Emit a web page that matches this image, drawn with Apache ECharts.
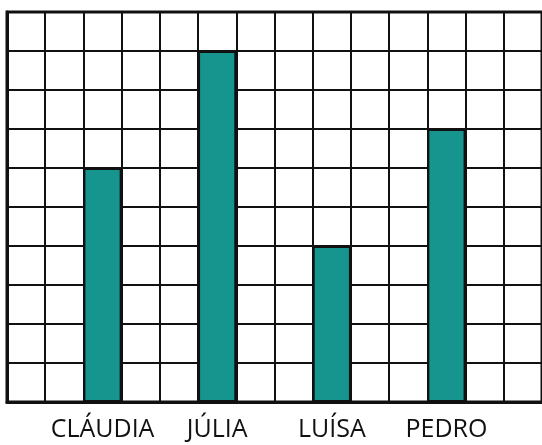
<!DOCTYPE html>
<html>
<head>
<meta charset="utf-8">
<script src="https://cdn.jsdelivr.net/npm/echarts@6/dist/echarts.min.js"></script>
<style>
  html, body { margin: 0; padding: 0; background: #fff; }
  #chart { width: 542px; height: 445px; }
</style>
</head>
<body>
<div id="chart"></div>
<script>
// children and the number of squares coloured for each
const names = ['CLÁUDIA', 'JÚLIA', 'LUÍSA', 'PEDRO'];
const values = [6, 9, 4, 7];
const yTicks = [0, 1, 2, 3, 4, 5, 6, 7, 8, 9, 10];

// the squared paper: 14 columns, a bar every third column starting at the 3rd
const columnCount = 14;
const cells = [];
const cellValues = [];
for (let i = 0; i < columnCount; i++) {
  cells.push('');
  cellValues.push('-');
}
names.forEach((n, i) => {
  cells[2 + i * 3] = n;
  cellValues[2 + i * 3] = values[i];
});

const chart = echarts.init(document.getElementById('chart'));
chart.setOption({
  animation: false,
  grid: {
    left: 7, top: 12, width: 541, height: 390,
    show: true, borderColor: '#111', borderWidth: 3
  },
  xAxis: {
    type: 'category',
    data: cells,
    boundaryGap: true,
    axisTick: { show: false },
    axisLine: { show: true, lineStyle: { color: '#111', width: 3 } },
    splitLine: { show: true, interval: 0, lineStyle: { color: '#111', width: 2 } },
    axisLabel: {
      interval: 0,
      margin: 15,
      fontFamily: 'Open Sans',
      fontSize: 25,
      color: '#111'
    }
  },
  yAxis: {
    type: 'value',
    min: yTicks[0],
    max: yTicks[yTicks.length - 1],
    interval: 1,
    axisLine: { show: true, lineStyle: { color: '#111', width: 3 } },
    axisTick: { show: false },
    axisLabel: { show: false },
    splitLine: { show: true, lineStyle: { color: '#111', width: 2 } }
  },
  series: [{
    type: 'bar',
    data: cellValues,
    barWidth: '100%',
    itemStyle: { color: '#16958f', borderColor: '#111', borderWidth: 2 }
  }]
});
</script>
</body>
</html>
